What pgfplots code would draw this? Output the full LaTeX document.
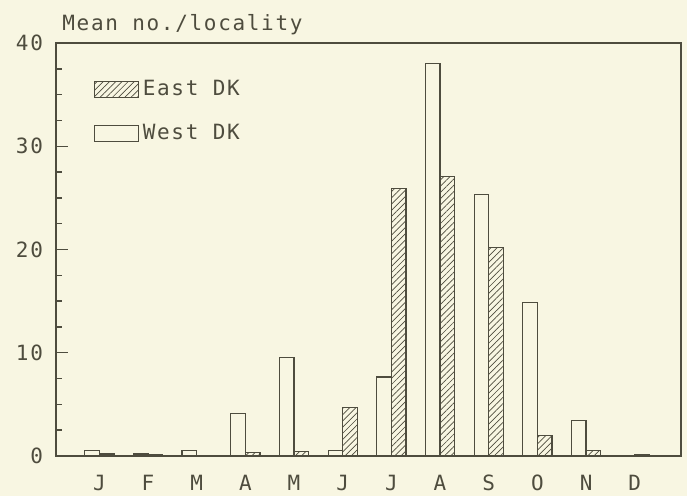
\documentclass[border=0pt]{standalone}
\usepackage{pgfplots}
\pgfplotsset{compat=1.18}
\usetikzlibrary{patterns.meta}
\usepackage{fontspec}
\setmainfont{DejaVu Sans Mono}[LetterSpace=8]
\definecolor{bgc}{RGB}{248,246,226}
\definecolor{ink}{RGB}{78,76,62}
\begin{document}
\begin{tikzpicture}
\fill[bgc] (0,0) rectangle (343.5pt,248pt);
\useasboundingbox (0,0) rectangle (343.5pt,248pt);
\begin{axis}[
  at={(28pt,20pt)}, anchor=south west,
  scale only axis, width=312.5pt, height=206.5pt,
  ybar=0pt, bar width=7.3pt,
  xmin=-0.89, xmax=11.95, ymin=0, ymax=40,
  xtick={0,...,11}, xticklabels={J,F,M,A,M,J,J,A,S,O,N,D},
  major x tick style={draw=none},
  xticklabel style={yshift=-6pt},
  ytick={0,10,20,30,40}, minor ytick={2.5,5,7.5,12.5,15,17.5,22.5,25,27.5,32.5,35,37.5},
  tick align=inside, ytick pos=left,
  major tick length=6pt, minor tick length=3pt,
  yticklabel style={xshift=-3pt},
  /pgf/number format/assume math mode=true,
  tick label style={font=\fontsize{10.5}{12}\selectfont, text=ink},
  axis line style={ink, line width=0.8pt},
  every tick/.style={ink, line width=0.7pt},
  legend style={draw=none, fill=none, at={(0.05,0.93)}, anchor=north west,
    font=\fontsize{10.5}{12}\selectfont, text=ink, row sep=9pt,
    /tikz/every even column/.append style={column sep=1pt}},
  reverse legend,
  legend image code/.code={\draw[#1] (0pt,-4pt) rectangle (22pt,4pt);},
]
\addplot[draw=ink, fill=bgc, line width=0.6pt] coordinates {
 (0,0.5) (1,0.2) (2,0.5) (3,4.1) (4,9.55) (5,0.5) (6,7.65) (7,38.0) (8,25.3) (9,14.9) (10,3.4) (11,0.05)};
\addlegendentry{West DK}
\addplot[draw=ink, line width=0.6pt, pattern={Lines[angle=45,distance=2.2pt,line width=0.35pt]}, pattern color=ink] coordinates {
 (0,0.2) (1,0.1) (2,0.05) (3,0.3) (4,0.4) (5,4.7) (6,25.9) (7,27.05) (8,20.2) (9,2.0) (10,0.5) (11,0.15)};
\addlegendentry{East DK}
\end{axis}
\node[anchor=base west, text=ink, font=\fontsize{10.5}{12}\selectfont, inner sep=0pt] at (31pt,232.5pt) {Mean no./locality};
\end{tikzpicture}
\end{document}
